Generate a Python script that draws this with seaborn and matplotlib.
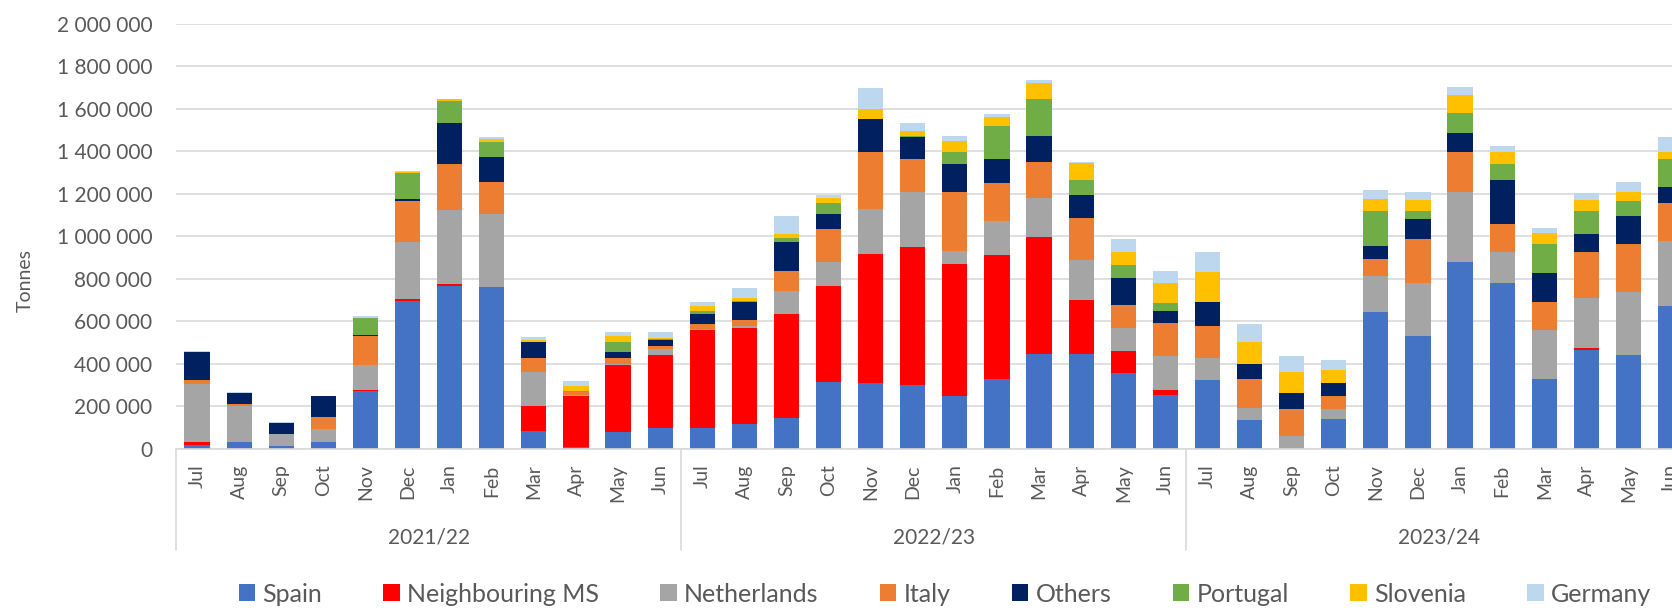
import numpy as np
import pandas as pd
import matplotlib
matplotlib.use("Agg")
import matplotlib.pyplot as plt
from matplotlib.patches import Patch
from matplotlib.ticker import FuncFormatter
from matplotlib.transforms import blended_transform_factory
import seaborn as sns

# Monthly volumes by origin, thousand tonnes, Jul 2021 - Jun 2024
seasons = ["2021/22", "2022/23", "2023/24"]
months = ["Jul", "Aug", "Sep", "Oct", "Nov", "Dec", "Jan", "Feb", "Mar", "Apr", "May", "Jun"]
series = ["Spain", "Neighbouring MS", "Netherlands", "Italy", "Others",
          "Portugal", "Slovenia", "Germany"]
colors = ["#4472C4", "#FF0000", "#A5A5A5", "#ED7D31", "#002060",
          "#70AD47", "#FFC000", "#BDD7EE"]

spain = [20, 31, 16, 31, 271, 696, 764, 761, 85, 8, 80, 100,
         100, 116, 147, 316, 310, 299, 247, 330, 448, 448, 355, 252,
         324, 138, 0, 142, 642, 529, 878, 779, 330, 463, 440, 673]
neighbouring = [13, 2, 0, 0, 8, 8, 11, 0, 117, 242, 313, 341,
                457, 452, 487, 448, 605, 651, 623, 581, 547, 252, 104, 23,
                0, 0, 0, 0, 0, 0, 0, 0, 0, 10, 0, 0]
netherlands = [274, 170, 53, 61, 117, 271, 350, 345, 159, 2, 8, 28,
               8, 12, 109, 114, 212, 260, 63, 163, 185, 189, 108, 163,
               106, 54, 63, 46, 169, 249, 332, 149, 230, 236, 300, 307]
italy = [19, 7, 3, 57, 136, 189, 216, 151, 69, 17, 29, 13,
         23, 27, 96, 155, 267, 155, 277, 176, 169, 197, 111, 154,
         147, 138, 125, 62, 83, 209, 184, 130, 133, 216, 224, 175]
others = [129, 53, 50, 98, 5, 10, 193, 114, 71, 0, 24, 31,
          47, 83, 133, 70, 157, 103, 130, 112, 122, 110, 125, 57,
          116, 71, 75, 60, 62, 96, 90, 206, 136, 86, 131, 78]
portugal = [0, 0, 0, 0, 78, 122, 101, 73, 3, 3, 51, 3,
            14, 5, 22, 52, 0, 5, 57, 156, 172, 68, 61, 36,
            0, 0, 0, 0, 165, 38, 97, 74, 135, 110, 72, 129]
slovenia = [2, 0, 2, 0, 0, 8, 8, 13, 9, 22, 24, 8,
            21, 14, 15, 23, 45, 23, 52, 41, 78, 79, 62, 97,
            141, 101, 97, 62, 53, 50, 83, 58, 50, 50, 43, 32]
germany = [3, 6, 4, 3, 8, 4, 0, 8, 13, 24, 23, 25,
           23, 47, 86, 16, 99, 38, 22, 14, 13, 6, 60, 57,
           94, 85, 78, 44, 44, 36, 39, 30, 27, 31, 47, 74]

values = [spain, neighbouring, netherlands, italy, others, portugal, slovenia, germany]

sns.set_theme(style="white")
plt.rcParams["font.family"] = ["Lato", "DejaVu Sans"]
TEXT = "#595959"
GRID = "#D9D9D9"

keys = [f"{s} {m}" for s in seasons for m in months]
df = pd.DataFrame({"key": keys})
for name, vals in zip(series, values):
    df[name] = np.asarray(vals, dtype=float) * 1000.0
cum = df[series].cumsum(axis=1)
cum["key"] = keys

W, H = 1672, 610
fig = plt.figure(figsize=(W / 100, H / 100), dpi=100)
x0, y0, ytop = 176, 449, 23.5
slot = 42.1
ax = fig.add_axes([x0 / W, (H - y0) / H, 1 - x0 / W, (y0 - ytop) / H])

# stacked columns: draw running totals from the top segment downwards
for name, color in reversed(list(zip(series, colors))):
    sns.barplot(data=cum, x="key", y=name, order=keys, color=color,
                saturation=1, width=0.6, errorbar=None, linewidth=0, ax=ax)

ax.set_xlim(-0.5, -0.5 + (W - x0) / slot)
ax.set_ylim(0, 2_000_000)
ax.set_yticks(np.arange(0, 2_000_001, 200_000))
ax.yaxis.set_major_formatter(FuncFormatter(lambda v, p: f"{v:,.0f}".replace(",", " ")))
ax.yaxis.grid(True, color=GRID, lw=1.2)
ax.set_axisbelow(True)
for side in ("top", "right", "left"):
    ax.spines[side].set_visible(False)
ax.spines["bottom"].set_color(GRID)
ax.spines["bottom"].set_linewidth(1.2)
ax.set_xlabel("")
ax.set_ylabel("")

ax.set_xticks(range(len(keys)))
ax.set_xticklabels(months * len(seasons), rotation=90)
ax.tick_params(axis="x", length=0, pad=11, labelsize=14, labelcolor=TEXT)
ax.tick_params(axis="y", length=0, pad=17, labelsize=15, labelcolor=TEXT)

# season labels and group separators under the month labels
trans = blended_transform_factory(ax.transData, fig.transFigure)
for i, s in enumerate(seasons):
    ax.text(i * 12 + 5.5, (H - 537) / H, s, transform=trans, ha="center",
            va="center", fontsize=15, color=TEXT)
for xb in (-0.5, 11.5, 23.5):
    ax.plot([xb, xb], [(H - y0) / H, (H - 550) / H], transform=trans,
            color=GRID, lw=1.2, clip_on=False)

fig.text(25 / W, (H - 281) / H, "Tonnes", rotation=90, ha="center",
         va="center", fontsize=14, color=TEXT)

handles = [Patch(facecolor=c, edgecolor="none", label=s) for s, c in zip(series, colors)]
fig.legend(handles=handles, loc="center", bbox_to_anchor=(945 / W, (H - 594) / H),
           ncol=len(series), frameon=False, fontsize=18, handlelength=0.65,
           handleheight=0.65, handletextpad=0.3, columnspacing=2.45,
           labelcolor=TEXT)

fig.savefig("out.png", dpi=100, facecolor="white")
